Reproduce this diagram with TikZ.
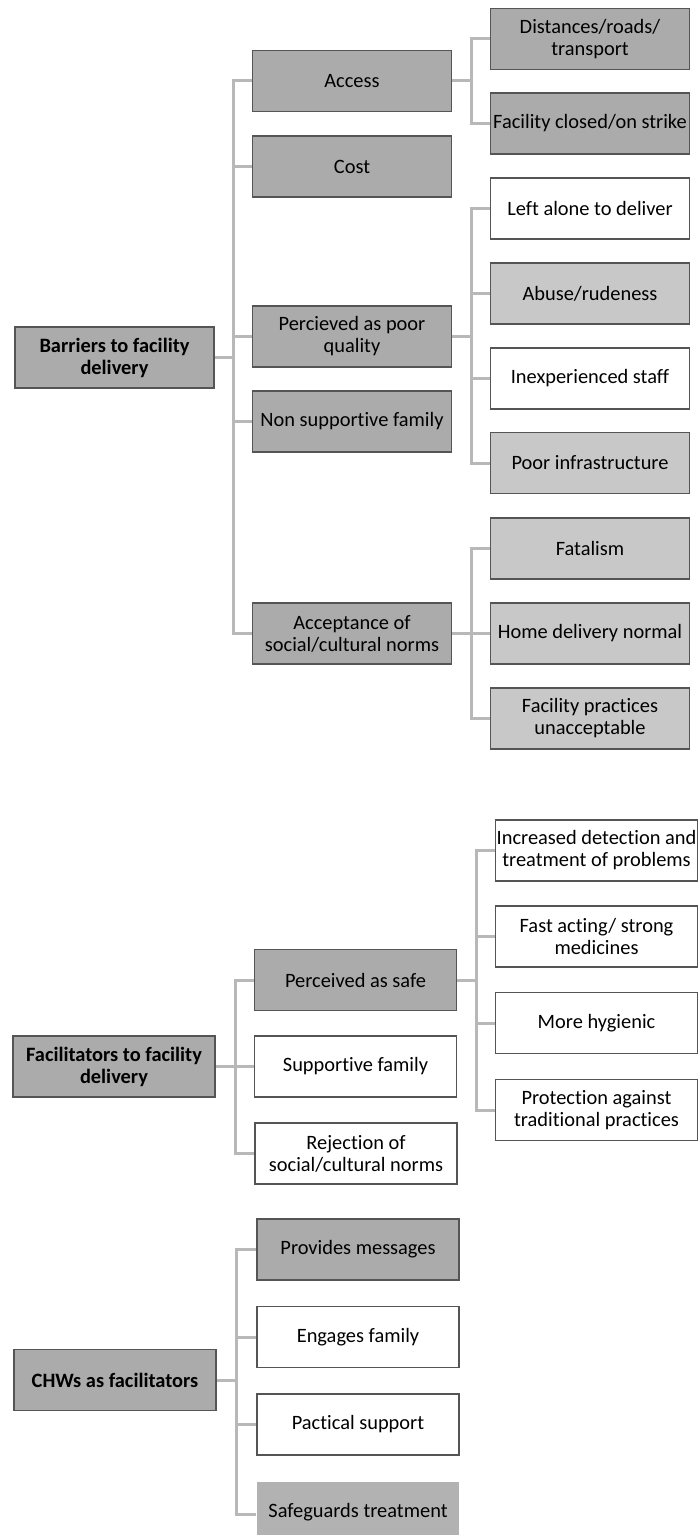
\documentclass[tikz,border=0pt]{standalone}
\usepackage{fontspec}
\setmainfont{Carlito}[Ligatures={NoCommon}]
\usetikzlibrary{backgrounds}
\definecolor{dkfill}{RGB}{171,171,171}
\definecolor{ltfill}{RGB}{200,200,200}
\definecolor{sgfill}{RGB}{178,178,178}
\definecolor{lncol}{RGB}{184,184,184}
\definecolor{bdcol}{RGB}{85,85,85}
\begin{document}
\begin{tikzpicture}[x=0.5pt,y=-0.5pt,
  box/.style={draw=bdcol, line width=0.75pt, minimum width=99.5pt,
    minimum height=30.5pt, inner xsep=0pt, inner ysep=1pt, align=center,
    font=\fontsize{10.2}{11}\selectfont},
  wide/.style={minimum width=101pt},
  dkbox/.style={box, fill=dkfill},
  ltbox/.style={box, fill=ltfill},
  whbox/.style={box, fill=white},
  rootbox/.style={dkbox, font=\fontsize{10.2}{11}\selectfont\bfseries},
  conn/.style={draw=lncol, line width=1.5pt}]
\useasboundingbox (0,0) rectangle (698,1535);
\clip (0,0) rectangle (698,1535);

% ---------- Barriers ----------
\node[rootbox] (bar) at (114.5,357.5) {Barriers to facility\\delivery};
\node[dkbox] (access) at (352,81) {Access};
\node[dkbox] (cost) at (352,166.5) {Cost};
\node[dkbox] (poorq) at (352,336.5) {Percieved as poor\\quality};
\node[dkbox] (nonsup) at (352,421.5) {Non supportive family};
\node[dkbox] (accept) at (352,633.5) {Acceptance of\\social/cultural norms};

\node[dkbox] (dist) at (590,39) {Distances/roads/\\transport};
\node[dkbox] (closed) at (590,123.5) {Facility closed/on strike};
\node[whbox] (alone) at (590,208.5) {Left alone to deliver};
\node[ltbox] (abuse) at (590,293.5) {Abuse/rudeness};
\node[whbox] (inexp) at (590,378.5) {Inexperienced staff};
\node[ltbox] (infra) at (590,463) {Poor infrastructure};
\node[ltbox] (fatal) at (590,548.5) {Fatalism};
\node[ltbox] (home) at (590,633.5) {Home delivery normal};
\node[ltbox] (pract) at (590,718.5) {Facility practices\\unacceptable};

\coordinate (t1) at (233.5,0);
\coordinate (b1) at (471,0);

% ---------- Facilitators ----------
\node[rootbox, wide] (fac) at (114,1066.5) {Facilitators to facility\\delivery};
\node[dkbox, wide] (safe) at (355.5,980) {Perceived as safe};
\node[whbox, wide] (supfam) at (355.5,1066.5) {Supportive family};
\node[whbox, wide] (reject) at (356,1153.5) {Rejection of\\social/cultural norms};
\node[whbox, wide] (detect) at (596.5,850.5) {Increased detection and\\treatment of problems};
\node[whbox, wide] (fast) at (596.5,936.5) {Fast acting/ strong\\medicines};
\node[whbox, wide] (hyg) at (596.5,1023) {More hygienic};
\node[whbox, wide] (prot) at (596.5,1110) {Protection against\\traditional practices};

\coordinate (t2) at (235,0);
\coordinate (b2) at (476.5,0);

% ---------- CHWs ----------
\node[rootbox, wide] (chw) at (115,1380) {CHWs as facilitators};
\node[dkbox, wide] (msg) at (358,1249.5) {Provides messages};
\node[whbox, wide] (engage) at (358,1337) {Engages family};
\node[whbox, wide] (practical) at (358,1424.5) {Pactical support};
\node[box, wide, draw=none, fill=sgfill] (safeg) at (358,1512.5) {Safeguards treatment};

\coordinate (t3) at (236,0);

\begin{pgfonlayer}{background}
  % barriers level 1
  \draw[conn] (bar.east) -- (bar.east -| t1);
  \draw[conn] (access.west) -- (access.west -| t1) -- (accept.west -| t1) -- (accept.west);
  \draw[conn] (cost.west) -- (cost.west -| t1);
  \draw[conn] (poorq.west) -- (poorq.west -| t1);
  \draw[conn] (nonsup.west) -- (nonsup.west -| t1);
  % access children
  \draw[conn] (access.east) -- (access.east -| b1);
  \draw[conn] (dist.west) -- (dist.west -| b1) -- (closed.west -| b1) -- (closed.west);
  % poor quality children
  \draw[conn] (poorq.east) -- (poorq.east -| b1);
  \draw[conn] (alone.west) -- (alone.west -| b1) -- (infra.west -| b1) -- (infra.west);
  \draw[conn] (abuse.west) -- (abuse.west -| b1);
  \draw[conn] (inexp.west) -- (inexp.west -| b1);
  % acceptance children
  \draw[conn] (accept.east) -- (accept.east -| b1);
  \draw[conn] (fatal.west) -- (fatal.west -| b1) -- (pract.west -| b1) -- (pract.west);
  \draw[conn] (home.west) -- (home.west -| b1);
  % facilitators
  \draw[conn] (fac.east) -- (fac.east -| t2);
  \draw[conn] (safe.west) -- (safe.west -| t2) -- (reject.west -| t2) -- (reject.west);
  \draw[conn] (supfam.west) -- (supfam.west -| t2);
  \draw[conn] (safe.east) -- (safe.east -| b2);
  \draw[conn] (detect.west) -- (detect.west -| b2) -- (prot.west -| b2) -- (prot.west);
  \draw[conn] (fast.west) -- (fast.west -| b2);
  \draw[conn] (hyg.west) -- (hyg.west -| b2);
  % CHWs
  \draw[conn] (chw.east) -- (chw.east -| t3);
  \draw[conn] (msg.west) -- (msg.west -| t3) -- ([yshift=-1pt]safeg.west -| t3) -- ([yshift=-1pt]safeg.west);
  \draw[conn] (engage.west) -- (engage.west -| t3);
  \draw[conn] (practical.west) -- (practical.west -| t3);
\end{pgfonlayer}
\end{tikzpicture}
\end{document}
